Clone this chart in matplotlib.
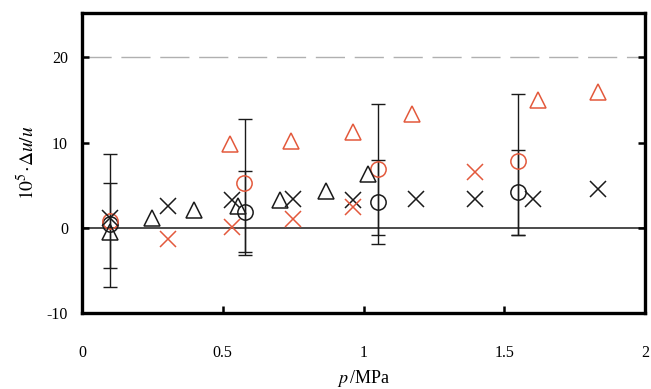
import matplotlib
matplotlib.use('Agg')
import matplotlib.pyplot as plt
import numpy as np

plt.rcParams['font.family'] = ['Liberation Serif', 'DejaVu Serif']
plt.rcParams['mathtext.fontset'] = 'stix'

red = '#E3593C'
blk = '#1a1a1a'

# black circles / red circles
p_bo = [0.1, 0.58, 1.05, 1.55]
y_bo = [0.5, 1.8, 3.05, 4.15]
p_ro = [0.1, 0.575, 1.05, 1.55]
y_ro = [0.85, 5.3, 6.95, 7.85]

# crosses
p_bx = [0.1, 0.307, 0.532, 0.751, 0.964, 1.187, 1.396, 1.601, 1.834]
y_bx = [1.2, 2.6, 3.2, 3.4, 3.3, 3.4, 3.4, 3.4, 4.6]
p_rx = [0.307, 0.532, 0.748, 0.964, 1.396]
y_rx = [-1.3, 0.1, 1.05, 2.4, 6.5]

# triangles
p_bt = [0.1, 0.248, 0.398, 0.555, 0.703, 0.867, 1.014]
y_bt = [-0.5, 1.2, 2.05, 2.6, 3.2, 4.3, 6.3]
p_rt = [0.526, 0.741, 0.964, 1.171, 1.619, 1.834]
y_rt = [9.8, 10.2, 11.25, 13.3, 15.0, 15.9]

# error bars (bottom / top ends)
p_err = [0.1, 0.58, 1.05, 1.55]
long_lo = [-7.0, -3.2, -1.9, -0.9]
long_hi = [8.6, 12.8, 14.5, 15.7]
short_lo = [-4.7, -2.8, -0.9, -0.9]
short_hi = [5.2, 6.7, 7.9, 9.1]

fig = plt.figure(figsize=(6.51, 3.89), dpi=100)
ax = fig.add_axes([0.126, 0.1954, 0.865, 0.7712])

ax.axhline(20, color='#b0b0b0', lw=1.0, dashes=(21, 7), zorder=1)
ax.axhline(0, color=blk, lw=1.1, zorder=1)

for lo, hi in [(long_lo, long_hi), (short_lo, short_hi)]:
    lo = np.array(lo)
    hi = np.array(hi)
    ax.errorbar(p_err, (hi + lo) / 2, yerr=(hi - lo) / 2, fmt='none',
                ecolor=blk, elinewidth=1.0, capsize=4.7, capthick=1.0, zorder=2)

mk = dict(linestyle='none', mfc='none', mew=1.1, zorder=3)
ax.plot(p_bo, y_bo, marker='o', ms=11, mec=blk, **mk)
ax.plot(p_ro, y_ro, marker='o', ms=11, mec=red, **mk)
ax.plot(p_bx, y_bx, marker='x', ms=12, mec=blk, **mk)
ax.plot(p_rx, y_rx, marker='x', ms=12, mec=red, **mk)
ax.plot(p_bt, y_bt, marker='^', ms=12, mec=blk, **mk)
ax.plot(p_rt, y_rt, marker='^', ms=12, mec=red, **mk)

ax.set_xlim(0, 2)
ax.set_ylim(-10, 25.2)
ax.set_xticks([0, 0.5, 1, 1.5, 2])
ax.set_xticklabels(['0', '0.5', '1', '1.5', '2'])
ax.set_yticks([-10, 0, 10, 20])
ax.set_yticklabels(['-10', '0', '10', '20'])

for s in ax.spines.values():
    s.set_linewidth(2.4)
ax.tick_params(direction='in', length=5, width=1.8, labelsize=11.5, right=True)
ax.tick_params(axis='x', pad=23)
ax.tick_params(axis='y', pad=10)

ax.set_xlabel(r'$p\,$/MPa', fontsize=13, labelpad=5)
ax.set_ylabel(r'$10^5\!\cdot\!\Delta u/u$', fontsize=14, labelpad=6)

fig.savefig('out.png', dpi=100)
